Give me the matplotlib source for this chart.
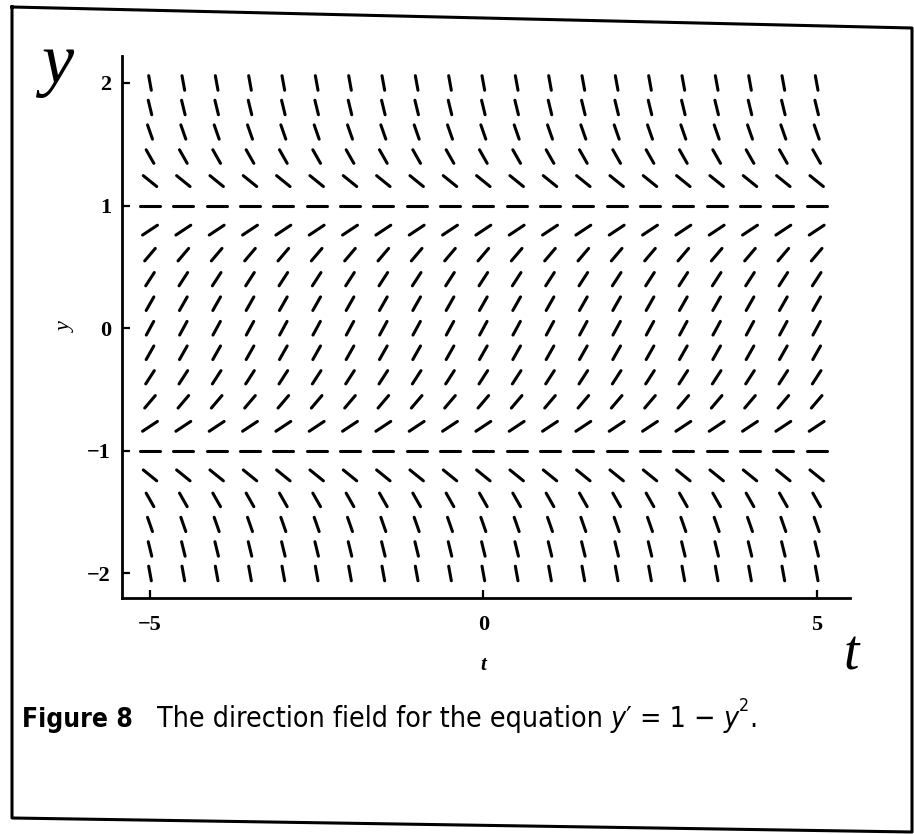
import numpy as np
import matplotlib
matplotlib.use("Agg")
import matplotlib.pyplot as plt
from matplotlib import font_manager
from matplotlib.collections import LineCollection
from matplotlib.lines import Line2D
from matplotlib.transforms import offset_copy

# Grid of sample points for the direction field of y' = 1 - y^2
t_values = [-5.0, -4.5, -4.0, -3.5, -3.0, -2.5, -2.0, -1.5, -1.0, -0.5, 0.0,
            0.5, 1.0, 1.5, 2.0, 2.5, 3.0, 3.5, 4.0, 4.5, 5.0]
y_values = [-2.0, -1.8, -1.6, -1.4, -1.2, -1.0, -0.8, -0.6, -0.4, -0.2, 0.0,
            0.2, 0.4, 0.6, 0.8, 1.0, 1.2, 1.4, 1.6, 1.8, 2.0]
x_ticks = [-5, 0, 5]
x_tick_labels = ["\u22125", "0", "5"]
y_ticks = [-2, -1, 0, 1, 2]
y_tick_labels = ["\u22122", "\u22121", "0", "1", "2"]
caption_label = "Figure 8"
# caption pieces: (text, italic, raised)
caption_parts = [("The direction field for the equation ", False, False),
                 ("y", True, False),
                 ("\u2032 = 1 \u2212 ", False, False),
                 ("y", True, False),
                 ("2", False, True),
                 (".", False, False)]


def slope(t, y):
    return 1.0 - y ** 2


# Prefer a condensed sans for the caption when one is installed
cap_props = dict(family=["Roboto", "DejaVu Sans"])
for f in font_manager.fontManager.ttflist:
    if ("Narrow" in f.name or "Condensed" in f.name
            or f.stretch in ("condensed", "semi-condensed")):
        if "Sans" in f.name:
            cap_props = dict(family=[f.name, "DejaVu Sans"], stretch=f.stretch)
            break

W, H = 914, 834
fig = plt.figure(figsize=(W / 100, H / 100), dpi=100)
fig.patch.set_facecolor("white")

ax = fig.add_axes([122 / W, 1 - 598 / H, 728 / W, 542 / H])
ax.set_xlim(-5.42, 5.5)
ax.set_ylim(-2.2, 2.22)

# Short slope segments, length normalised in grid-cell units
dt_cell, dy_cell = 0.5, 0.2
half = 0.3
T, Y = np.meshgrid(np.asarray(t_values), np.asarray(y_values))
F = slope(T, Y)
norm = np.sqrt((1.0 / dt_cell) ** 2 + (F / dy_cell) ** 2)
hx = half * 1.0 / norm
hy = half * F / norm
segs = np.stack([np.stack([T - hx, Y - hy], axis=-1),
                 np.stack([T + hx, Y + hy], axis=-1)], axis=-2).reshape(-1, 2, 2)
ax.add_collection(LineCollection(segs, colors="black", linewidths=2.2,
                                 capstyle="round"))

for side in ("top", "right"):
    ax.spines[side].set_visible(False)
for side in ("left", "bottom"):
    ax.spines[side].set_linewidth(2.0)

serif = "Liberation Serif"
ax.set_xticks(x_ticks)
ax.set_xticklabels(x_tick_labels, fontfamily=serif, fontsize=16, fontweight="bold")
ax.set_yticks(y_ticks)
ax.set_yticklabels(y_tick_labels, fontfamily=serif, fontsize=16, fontweight="bold")
ax.tick_params(axis="both", direction="in", length=6, width=1.6)
ax.tick_params(axis="x", pad=12)
ax.tick_params(axis="y", pad=8)

ax.set_xlabel("t", fontfamily=serif, fontstyle="italic", fontsize=15, fontweight="bold")
ax.xaxis.set_label_coords(0.496, -0.105)
ax.set_ylabel("y", fontfamily=serif, fontstyle="italic", fontsize=16)
ax.yaxis.set_label_coords(-0.064, 0.50)

# Handwritten axis names
fig.text(57 / W, 1 - 65 / H, "y", fontfamily=serif, fontstyle="italic",
         fontsize=52, ha="center", va="center")
fig.text(851 / W, 1 - 655 / H, "t", fontfamily=serif, fontstyle="italic",
         fontsize=40, ha="center", va="center")

# Caption: bold label, then the sentence laid out piece by piece
renderer = fig.canvas.get_renderer()
base_px = H - 727
fig.text(133 / W, base_px / H, caption_label, fontweight="bold", fontsize=19,
         ha="right", va="baseline", **cap_props)


def lay_caption(size):
    arts = []
    x = 157.0
    for text, italic, raised in caption_parts:
        fs = size * (0.62 if raised else 1.0)
        dy = size * 0.55 if raised else 0.0
        a = fig.text(0, 0, text, fontsize=fs, va="baseline", ha="left",
                     fontstyle="italic" if italic else "normal",
                     transform=offset_copy(fig.transFigure, fig=fig, x=x,
                                           y=base_px + dy * 100 / 72, units="dots"),
                     **cap_props)
        x += a.get_window_extent(renderer).width
        arts.append(a)
    return arts, x - 157.0


parts, width = lay_caption(20)
for a in parts:
    a.remove()
lay_caption(20 * 600 / width)

# Page border
px = np.array([12, 912, 912, 12, 12]) / W
py = 1 - np.array([7, 28, 832, 818, 7]) / H
fig.add_artist(Line2D(px, py, transform=fig.transFigure, color="black", lw=2.2))

fig.savefig("out.png", dpi=100, facecolor="white")
